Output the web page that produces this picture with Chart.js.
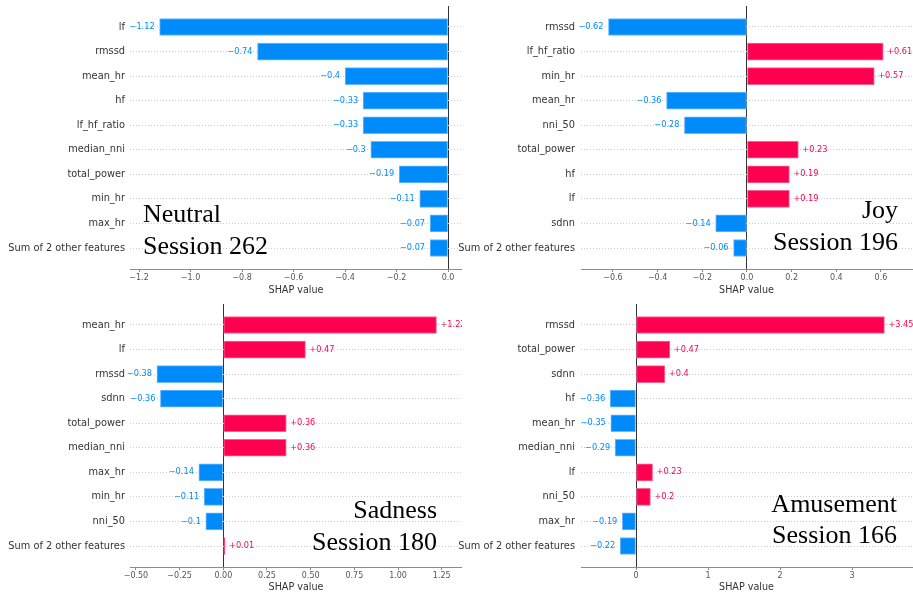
<!DOCTYPE html>
<html>
<head>
<meta charset="utf-8">
<script src="https://cdn.jsdelivr.net/npm/chart.js@4"></script>
<style>
  html, body { margin: 0; padding: 0; background: #ffffff; }
  body { width: 913px; height: 596px; position: relative; overflow: hidden; }
  canvas { position: absolute; }
</style>
</head>
<body>
<canvas id="c1" width="462" height="300" style="left:0;top:0"></canvas>
<canvas id="c2" width="457" height="300" style="left:456px;top:0"></canvas>
<canvas id="c3" width="462" height="298" style="left:0;top:298px"></canvas>
<canvas id="c4" width="457" height="298" style="left:456px;top:298px"></canvas>
<script>
// ---------- Data ----------
const neutralFeatures = ["lf", "rmssd", "mean_hr", "hf", "lf_hf_ratio", "median_nni", "total_power", "min_hr", "max_hr", "Sum of 2 other features"];
const neutralValues   = [-1.12, -0.74, -0.4, -0.33, -0.33, -0.3, -0.19, -0.11, -0.07, -0.07];
const neutralTicks      = [-1.2, -1.0, -0.8, -0.6, -0.4, -0.2, 0.0];
const neutralTickLabels = ["\u22121.2", "\u22121.0", "\u22120.8", "\u22120.6", "\u22120.4", "\u22120.2", "0.0"];

const joyFeatures = ["rmssd", "lf_hf_ratio", "min_hr", "mean_hr", "nni_50", "total_power", "hf", "lf", "sdnn", "Sum of 2 other features"];
const joyValues   = [-0.62, 0.61, 0.57, -0.36, -0.28, 0.23, 0.19, 0.19, -0.14, -0.06];
const joyTicks      = [-0.6, -0.4, -0.2, 0.0, 0.2, 0.4, 0.6];
const joyTickLabels = ["\u22120.6", "\u22120.4", "\u22120.2", "0.0", "0.2", "0.4", "0.6"];

const sadnessFeatures = ["mean_hr", "lf", "rmssd", "sdnn", "total_power", "median_nni", "max_hr", "min_hr", "nni_50", "Sum of 2 other features"];
const sadnessValues   = [1.22, 0.47, -0.38, -0.36, 0.36, 0.36, -0.14, -0.11, -0.1, 0.01];
const sadnessTicks      = [-0.5, -0.25, 0.0, 0.25, 0.5, 0.75, 1.0, 1.25];
const sadnessTickLabels = ["\u22120.50", "\u22120.25", "0.00", "0.25", "0.50", "0.75", "1.00", "1.25"];

const amusementFeatures = ["rmssd", "total_power", "sdnn", "hf", "mean_hr", "median_nni", "lf", "nni_50", "max_hr", "Sum of 2 other features"];
const amusementValues   = [3.45, 0.47, 0.4, -0.36, -0.35, -0.29, 0.23, 0.2, -0.19, -0.22];
const amusementTicks      = [0, 1, 2, 3];
const amusementTickLabels = ["0", "1", "2", "3"];

const axisTitle = "SHAP value";

// ---------- Styles ----------
const POS = "#ff0051", NEG = "#008bfb";
const LABEL_FONT = "DejaVu Sans";
const Y_FONT_SIZE = 9.8;

function fmtValue(v) {
  return (v < 0 ? "\u2212" : "+") + String(Math.abs(v));
}

const valueLabelPlugin = {
  id: "valueLabels",
  afterDatasetsDraw(chart) {
    const ctx = chart.ctx;
    const meta = chart.getDatasetMeta(0);
    const vals = chart.data.datasets[0].data;
    ctx.save();
    ctx.font = "8.2px '" + LABEL_FONT + "'";
    ctx.textBaseline = "middle";
    meta.data.forEach((el, i) => {
      const v = vals[i].x;
      ctx.fillStyle = v < 0 ? NEG : POS;
      if (v < 0) { ctx.textAlign = "right"; ctx.fillText(fmtValue(v), el.x - 5, el.y); }
      else { ctx.textAlign = "left"; ctx.fillText(fmtValue(v), el.x + 4, el.y); }
    });
    ctx.restore();
  }
};

const bigTextPlugin = {
  id: "bigText",
  afterDraw(chart, args, opts) {
    if (!opts || !opts.lines) return;
    const ctx = chart.ctx;
    ctx.save();
    ctx.font = "26px 'Liberation Serif'";
    ctx.fillStyle = "#000";
    ctx.textAlign = opts.align;
    ctx.textBaseline = "alphabetic";
    opts.lines.forEach((t, i) => ctx.fillText(t, opts.x, opts.ys[i]));
    ctx.restore();
  }
};

function makeChart(id, features, values, ticks, tickLabels, cfg) {
  const el = document.getElementById(id);
  const H = el.height;
  const points = values.map((v, i) => ({ x: v, y: i }));
  return new Chart(el, {
    type: "bar",
    data: {
      datasets: [{
        data: points,
        backgroundColor: values.map(v => v < 0 ? NEG : POS),
        borderColor: values.map(v => v < 0 ? "rgba(110,185,253,1)" : "rgba(255,100,145,1)"),
        borderWidth: 1,
        borderSkipped: false,
        barThickness: 17
      }]
    },
    options: {
      indexAxis: "y",
      responsive: false,
      animation: false,
      events: [],
      layout: { padding: { left: 0, right: cfg.padRight, top: 6, bottom: 0 } },
      plugins: {
        legend: { display: false },
        tooltip: { enabled: false },
        bigText: cfg.text
      },
      scales: {
        x: {
          type: "linear",
          min: cfg.xmin,
          max: cfg.xmax,
          offset: false,
          afterBuildTicks(scale) { scale.ticks = ticks.map(v => ({ value: v })); },
          afterFit(scale) {
            scale.height = H - 269;
            scale.paddingLeft = 0; scale.paddingRight = 0;
          },
          ticks: {
            callback: (value) => { const k = ticks.indexOf(value); return k >= 0 ? tickLabels[k] : ""; },
            font: { family: LABEL_FONT, size: 8 },
            color: "#555",
            padding: 1,
            maxRotation: 0,
            autoSkip: false
          },
          grid: {
            offset: false,
            color: (c) => (c.tick && c.tick.value === 0) ? "#333333" : "rgba(0,0,0,0)",
            lineWidth: 1,
            drawTicks: true,
            tickLength: 3,
            tickColor: "#888"
          },
          border: { display: true, color: "#8c8c8c", width: 1 },
          title: {
            display: true,
            text: axisTitle,
            font: { family: LABEL_FONT, size: 9.6 },
            color: "#333",
            padding: { top: 0, bottom: cfg.titlePad }
          }
        },
        y: {
          type: "linear",
          reverse: true,
          offset: false,
          min: -0.855,
          max: 9.855,
          afterBuildTicks(scale) { scale.ticks = features.map((f, i) => ({ value: i })); },
          afterFit(scale) {
            scale.width = cfg.yWidth;
            scale.paddingTop = 0; scale.paddingBottom = 0;
          },
          ticks: {
            callback: (value) => features[value] !== undefined ? features[value] : "",
            font: { family: LABEL_FONT, size: Y_FONT_SIZE },
            color: "#333",
            padding: cfg.yPad,
            autoSkip: false
          },
          grid: {
            offset: false,
            color: "#cccccc",
            lineWidth: 1,
            drawTicks: false
          },
          border: { display: false, dash: [1, 2] }
        }
      }
    },
    plugins: [valueLabelPlugin, bigTextPlugin]
  });
}

makeChart("c1", neutralFeatures, neutralValues, neutralTicks, neutralTickLabels, {
  xmin: -1.235, xmax: 0.054, yWidth: 130, yPad: 5, padRight: 0, titlePad: 4.2,
  text: { lines: ["Neutral", "Session 262"], align: "left", x: 143, ys: [222, 254] }
});
makeChart("c2", joyFeatures, joyValues, joyTicks, joyTickLabels, {
  xmin: -0.743, xmax: 0.739, yWidth: 125, yPad: 6, padRight: 1, titlePad: 4.2,
  text: { lines: ["Joy", "Session 196"], align: "right", x: 442, ys: [218, 250] }
});
makeChart("c3", sadnessFeatures, sadnessValues, sadnessTicks, sadnessTickLabels, {
  xmin: -0.534, xmax: 1.366, yWidth: 130, yPad: 5, padRight: 0, titlePad: 3.2,
  text: { lines: ["Sadness", "Session 180"], align: "right", x: 437, ys: [220, 252] }
});
makeChart("c4", amusementFeatures, amusementValues, amusementTicks, amusementTickLabels, {
  xmin: -0.764, xmax: 3.833, yWidth: 125, yPad: 6, padRight: 1, titlePad: 3.2,
  text: { lines: ["Amusement", "Session 166"], align: "right", x: 441, ys: [214, 245] }
});
</script>
</body>
</html>
